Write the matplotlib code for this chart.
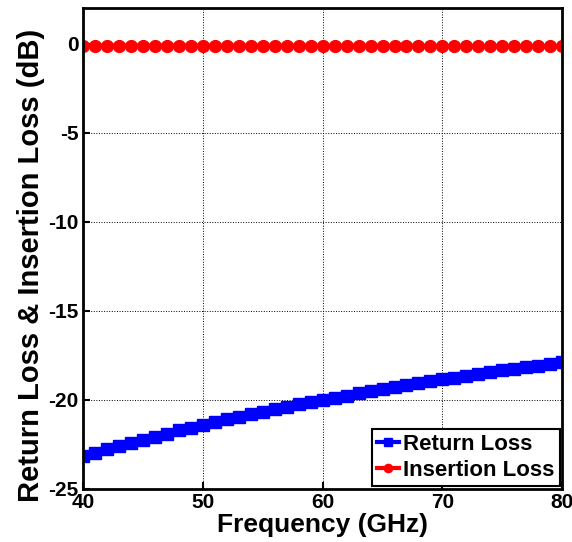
import matplotlib
matplotlib.use("Agg")
import matplotlib.pyplot as plt

plt.rcParams['font.family'] = ['Liberation Sans', 'DejaVu Sans']
plt.rcParams['font.weight'] = 'bold'
plt.rcParams['axes.unicode_minus'] = False

freq = list(range(40, 81))
return_loss = [-23.15, -22.96, -22.77, -22.59, -22.41, -22.23, -22.06, -21.89, -21.72, -21.56,
               -21.40, -21.25, -21.10, -20.95, -20.81, -20.67, -20.53, -20.39, -20.26, -20.13,
               -20.00, -19.88, -19.76, -19.64, -19.52, -19.41, -19.30, -19.18, -19.07, -18.96,
               -18.85, -18.75, -18.65, -18.55, -18.45, -18.35, -18.26, -18.17, -18.08, -17.99,
               -17.90]
insertion_loss = [-0.10, -0.10, -0.10, -0.10, -0.10, -0.10, -0.10, -0.10, -0.10, -0.10,
                  -0.11, -0.11, -0.11, -0.11, -0.11, -0.11, -0.11, -0.11, -0.11, -0.11,
                  -0.12, -0.12, -0.12, -0.12, -0.12, -0.12, -0.12, -0.12, -0.12, -0.12,
                  -0.13, -0.13, -0.13, -0.13, -0.13, -0.13, -0.13, -0.13, -0.13, -0.13,
                  -0.14]

fig = plt.figure(figsize=(5.72, 5.42), dpi=100)
ax = fig.add_axes([0.145, 0.098, 0.838, 0.887])

ax.plot(freq, return_loss, color='blue', marker='s', markersize=8.5, linewidth=3,
        label='Return Loss')
ax.plot(freq, insertion_loss, color='red', marker='o', markersize=8.5, linewidth=3,
        label='Insertion Loss')

ax.set_xlim(40, 80)
ax.set_ylim(-25, 2)
ax.set_xticks([40, 50, 60, 70, 80])
ax.set_yticks([0, -5, -10, -15, -20, -25])
ax.grid(True, color='black', linestyle=':', linewidth=0.7)
ax.tick_params(direction='in', labelsize=15, width=1.5, length=5, pad=3)
for s in ax.spines.values():
    s.set_linewidth(2)

ax.set_xlabel('Frequency (GHz)', fontsize=19, fontweight='bold')
ax.xaxis.set_label_coords(0.5, -0.05)
ax.set_ylabel('Return Loss & Insertion Loss (dB)', fontsize=21, fontweight='bold')
ax.yaxis.set_label_coords(-0.08, 0.465)

leg = ax.legend(loc='lower right', fontsize=16, fancybox=False, framealpha=1,
                edgecolor='black', borderpad=0.25, handlelength=1.0, handletextpad=0.15,
                labelspacing=0.2, borderaxespad=0.12, markerscale=0.7)
leg.get_frame().set_linewidth(1.5)

fig.savefig('out.png', dpi=100)
